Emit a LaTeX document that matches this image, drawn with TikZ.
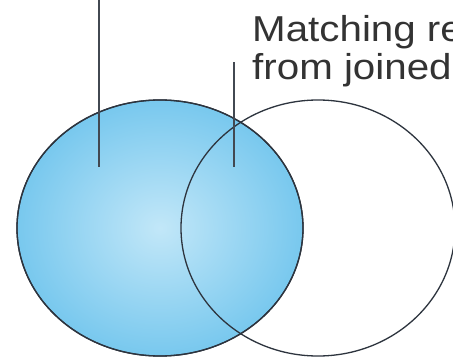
\documentclass[tikz,border=0pt]{standalone}
\usepackage{fontspec}
\setmainfont{Liberation Sans}
\usetikzlibrary{positioning,shapes.geometric}
\definecolor{setin}{RGB}{194,231,248}
\definecolor{setout}{RGB}{120,200,238}
\definecolor{inkcol}{RGB}{45,52,62}

\begin{document}
\begin{tikzpicture}[x=1pt, y=-1pt,
  setshape/.style={ellipse, draw=inkcol, line width=1.3pt, inner sep=0pt,
    minimum width=286pt, minimum height=256pt},
  leader/.style={draw=inkcol!90, line width=1.4pt},
  lab/.style={font=\fontsize{36}{38}\selectfont, text=black!80,
    inner sep=0pt, anchor=base west, xscale=1.12},
]
\useasboundingbox (0,0) rectangle (453,359);
\clip (0,0) rectangle (453,359);
\fill[white] (0,0) rectangle (453,359);
% left set, shaded
\node[setshape, shade, inner color=setin, outer color=setout] (seta) at (160,228) {};
% right set, outline only
\node[setshape, minimum width=274pt] (setb) at (318,228) {};
\node[setshape] at (seta) {};
% label cut off at the right edge
\node[lab] (matching) at (252,41) {Matching re};
\node[lab] (joined) at (252,79) {from joined};
% leader lines
\coordinate (leadatop) at (99,0);
\coordinate (leadaend) at (99,167);
\coordinate (leadbtop) at (234,62);
\coordinate (leadbend) at (234,167);
\draw[leader] (leadatop) -- (leadaend);
\draw[leader] (leadbtop) -- (leadbend);
\end{tikzpicture}
\end{document}
